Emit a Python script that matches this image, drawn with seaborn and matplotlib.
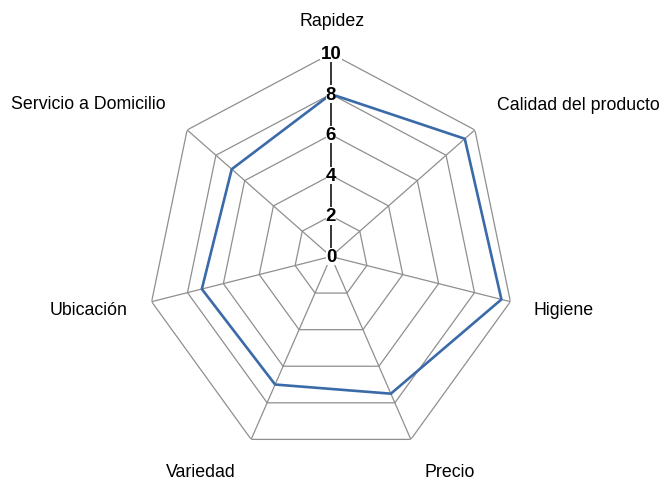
import numpy as np
import pandas as pd
import matplotlib
matplotlib.use("Agg")
import matplotlib.pyplot as plt
import seaborn as sns
from matplotlib import font_manager

categories = ["Rapidez", "Calidad del producto", "Higiene", "Precio",
              "Variedad", "Ubicación", "Servicio a Domicilio"]
values = [8.0, 9.3, 9.5, 7.5, 7.0, 7.2, 6.9]
ring_levels = [2, 4, 6, 8, 10]
tick_labels = ["0", "2", "4", "6", "8", "10"]
tick_values = [0, 2, 4, 6, 8, 10]

sns.set_theme(style="white")
names = {f.name for f in font_manager.fontManager.ttflist}
fam = "Liberation Sans Narrow" if "Liberation Sans Narrow" in names else "Liberation Sans"
plt.rcParams["font.family"] = [fam, "DejaVu Sans"]
label_size = 15.5 if fam == "Liberation Sans Narrow" else 12.8
tick_size = 15.5 if fam == "Liberation Sans Narrow" else 13.5

n = len(categories)
angles = np.arange(n) * 2 * np.pi / n

fig = plt.figure(figsize=(6.64, 4.81), dpi=100)
ax = fig.add_axes([147 / 664, 20.5 / 481, 368 / 664, 406 / 481], projection="polar")
ax.set_aspect("auto")
ax.set_theta_offset(np.pi / 2)
ax.set_theta_direction(-1)
ax.set_ylim(0, 10)
ax.grid(False)
ax.spines["polar"].set_visible(False)
ax.set_xticks([])
ax.set_yticks([])
ax.patch.set_alpha(0)

grid_col = "#8f8f8f"
closed = np.append(angles, angles[0])
for lv in ring_levels:
    ax.plot(closed, [lv] * (n + 1), color=grid_col, lw=0.9, zorder=1)
for i, a in enumerate(angles):
    ax.plot([a, a], [0, 10], color=("black" if i == 0 else grid_col),
            lw=(1.1 if i == 0 else 0.9), zorder=(2 if i == 0 else 1))

df = pd.DataFrame({"theta": np.append(angles, angles[0]),
                   "value": values + [values[0]]})
sns.lineplot(data=df, x="theta", y="value", sort=False, estimator=None,
             color="#3b6aa8", lw=1.9, ax=ax, zorder=3)
ax.set_xlabel("")
ax.set_ylabel("")

for tv, tl in zip(tick_values, tick_labels):
    ax.text(0, tv, tl, ha="center", va="center", fontsize=tick_size,
            fontweight="bold", color="black", zorder=5,
            bbox=dict(facecolor="white", edgecolor="none", pad=0.2))

offsets = [(1, 32.5), (104, 25), (53, -8), (39, -32.6),
           (-50, -32.6), (-63, -8), (-98.6, 26)]
for a, lab, off in zip(angles, categories, offsets):
    ax.annotate(lab, xy=(a, 10), xytext=off, textcoords="offset pixels",
                ha="center", va="center", fontsize=label_size, color="black",
                annotation_clip=False)

fig.savefig("out.png", dpi=100)
